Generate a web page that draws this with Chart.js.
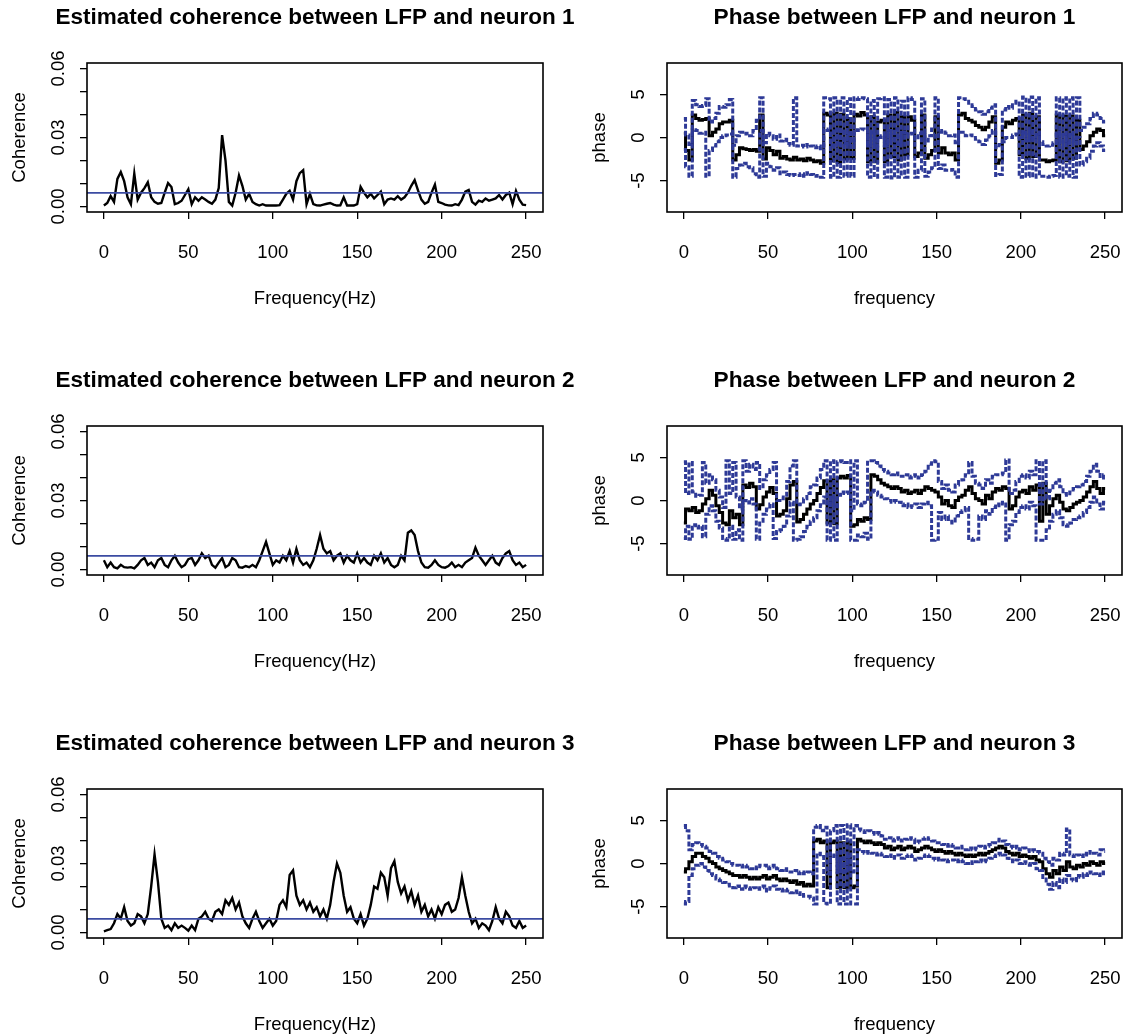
<!DOCTYPE html>
<html>
<head>
<meta charset="utf-8">
<script src="https://cdn.jsdelivr.net/npm/chart.js@4.4.0/dist/chart.umd.min.js"></script>
<style>
  body { margin: 0; background: #fff; }
  #wrap { position: relative; width: 1127px; height: 1035px; overflow: hidden; background: #fff; }
  .cell { position: absolute; }
</style>
</head>
<body>
<div id="wrap">
  <div class="cell" style="left:0;top:0"><canvas id="coh1" width="620" height="363"></canvas></div>
  <div class="cell" style="left:0;top:363px"><canvas id="coh2" width="620" height="363"></canvas></div>
  <div class="cell" style="left:0;top:726px"><canvas id="coh3" width="620" height="363"></canvas></div>
  <div class="cell" style="left:563px;top:0"><canvas id="ph1" width="564" height="363"></canvas></div>
  <div class="cell" style="left:563px;top:363px"><canvas id="ph2" width="564" height="363"></canvas></div>
  <div class="cell" style="left:563px;top:726px"><canvas id="ph3" width="564" height="363"></canvas></div>
</div>
<script>
/* coherence / phase between LFP and 3 neurons, R base-graphics look */

// frequency grid, 0..250 Hz every 2 Hz
const freq = Array.from({length: 126}, (_, i) => i * 2);

const xTicks = [0, 50, 100, 150, 200, 250];
const cohTicks = [0, 0.01, 0.02, 0.03, 0.04, 0.05, 0.06];
const cohTickLabels = ['0.00', '', '', '0.03', '', '', '0.06'];
const phaseTicks = [-5, 0, 5];
const phaseTickLabels = ['-5', '0', '5'];
const cohThreshold = 0.0059;

const coh1 = [
  0.0004,0.0015,0.0045,0.002,0.012,0.015,0.011,0.004,0.001,0.0143,
  0.003,0.006,0.008,0.0105,0.004,0.002,0.0012,0.0015,0.006,0.0102,
  0.0085,0.001,0.0015,0.0025,0.005,0.0075,0.001,0.004,0.0025,0.004,
  0.003,0.002,0.0012,0.003,0.008,0.031,0.02,0.002,0.0004,0.006,
  0.0135,0.009,0.003,0.0055,0.002,0.001,0.0004,0.001,0.0004,0.0004,
  0.0005,0.0004,0.0006,0.003,0.0055,0.0068,0.003,0.011,0.0145,0.0158,
  0.001,0.0055,0.001,0.0005,0.0004,0.0008,0.0012,0.0015,0.0008,0.0004,
  0.0005,0.004,0.0004,0.0005,0.0004,0.001,0.0085,0.006,0.004,0.0055,
  0.0035,0.005,0.0065,0.001,0.003,0.0035,0.003,0.0045,0.003,0.004,
  0.006,0.009,0.0115,0.007,0.003,0.0012,0.002,0.006,0.0095,0.002,
  0.0015,0.0008,0.0005,0.0004,0.001,0.0006,0.003,0.0065,0.0072,0.002,
  0.0008,0.0025,0.002,0.0035,0.0025,0.003,0.0035,0.005,0.003,0.005,
  0.006,0.001,0.0068,0.003,0.0008,0.0006
];
const coh2 = [
  0.004,0.001,0.003,0.001,0.0005,0.002,0.001,0.0008,0.001,0.0005,
  0.002,0.004,0.005,0.002,0.003,0.001,0.004,0.005,0.002,0.001,
  0.004,0.006,0.003,0.001,0.002,0.0045,0.005,0.002,0.004,0.007,
  0.005,0.006,0.002,0.0008,0.003,0.005,0.001,0.002,0.005,0.004,
  0.001,0.0008,0.0015,0.001,0.002,0.001,0.004,0.008,0.012,0.007,
  0.002,0.004,0.003,0.006,0.004,0.008,0.003,0.009,0.004,0.002,
  0.003,0.001,0.004,0.009,0.015,0.009,0.007,0.008,0.004,0.006,
  0.007,0.003,0.006,0.004,0.003,0.007,0.003,0.005,0.003,0.002,
  0.006,0.004,0.007,0.003,0.005,0.002,0.001,0.002,0.006,0.004,
  0.016,0.017,0.015,0.008,0.003,0.001,0.0008,0.002,0.004,0.002,
  0.001,0.0008,0.0015,0.003,0.001,0.002,0.001,0.003,0.004,0.005,
  0.0095,0.006,0.004,0.002,0.004,0.006,0.003,0.002,0.005,0.007,
  0.008,0.004,0.002,0.003,0.001,0.002
];
const coh3 = [
  0.0005,0.001,0.0015,0.004,0.008,0.006,0.011,0.005,0.003,0.004,
  0.008,0.007,0.004,0.008,0.02,0.034,0.022,0.006,0.002,0.003,
  0.001,0.004,0.002,0.003,0.002,0.0008,0.003,0.001,0.006,0.007,
  0.009,0.006,0.005,0.009,0.01,0.008,0.014,0.012,0.015,0.01,
  0.013,0.007,0.004,0.002,0.006,0.009,0.005,0.002,0.004,0.006,
  0.003,0.005,0.012,0.014,0.011,0.025,0.027,0.016,0.012,0.014,
  0.01,0.013,0.009,0.011,0.007,0.01,0.006,0.012,0.022,0.03,
  0.026,0.016,0.009,0.011,0.006,0.004,0.008,0.003,0.006,0.012,
  0.02,0.019,0.026,0.024,0.016,0.028,0.031,0.022,0.017,0.02,
  0.014,0.018,0.012,0.016,0.009,0.012,0.007,0.01,0.006,0.011,
  0.008,0.012,0.013,0.009,0.01,0.015,0.024,0.016,0.009,0.004,
  0.006,0.002,0.004,0.003,0.001,0.005,0.011,0.006,0.004,0.009,
  0.007,0.003,0.002,0.005,0.002,0.003
];

// phase estimate and upper / lower bounds (radians)
const phase1 = [
  0.5,-1.5,-2.6,2.6,2.2,2.0,2.1,2.2,0.2,0.6,
  1.0,1.6,1.8,1.8,2.0,-2.6,-2.0,-1.2,-1.3,-1.4,
  -1.5,-1.4,-1.6,2.6,-2.5,-1.2,-1.5,-2.0,-1.6,-2.4,
  -2.2,-2.5,-2.6,-2.3,-2.6,-2.5,-2.7,-2.4,-2.6,-2.8,
  -2.7,-3.0,2.8,2.6,-2.7,2.8,-2.9,2.7,-2.5,2.2,
  -2.4,2.7,2.5,2.9,2.6,-2.8,2.4,-2.8,1.8,2.0,
  -2.8,2.6,-2.2,2.9,-2.6,2.4,-2.0,2.4,2.0,-2.2,
  -1.8,2.6,-2.4,-2.0,-1.5,2.4,-1.8,-1.2,-1.8,-2.0,
  -1.8,-2.6,2.6,2.8,2.2,2.0,1.8,1.4,1.2,0.9,
  1.2,1.8,2.4,-3.0,-2.6,1.2,1.8,1.6,2.0,2.2,
  -2.0,2.6,-2.4,2.8,-2.2,2.4,-2.6,-2.6,-2.8,-2.7,
  -2.6,2.6,-2.8,2.5,-2.7,2.5,-2.4,2.0,-1.4,-1.0,
  -0.5,0.2,0.6,1.0,0.8,0.2
];
const upper1 = [
  2.2,0.3,-0.8,4.3,3.8,3.6,3.7,4.5,1.8,2.2,
  2.8,3.6,3.5,3.8,4.4,-0.9,0.2,0.6,0.4,0.5,
  0.2,0.8,2.0,4.6,-0.6,0.5,0.2,-0.2,0.3,-0.4,
  -0.2,-0.7,-0.9,4.6,-1.0,-0.9,-1.1,-0.8,-1.0,-1.2,
  -1.0,-1.3,4.6,4.5,-0.9,4.6,-1.0,4.6,-0.7,4.5,
  -0.6,4.6,4.4,4.6,4.5,-1.0,4.3,-1.0,4.5,4.6,
  -1.0,4.4,-0.4,4.6,-0.8,4.2,0.5,4.6,4.4,-0.2,
  0.5,4.5,-0.4,0.2,1.0,4.6,0.6,0.8,0.5,0.2,
  0.3,-0.6,4.6,4.5,4.4,3.8,3.6,3.2,3.0,2.7,
  3.0,3.4,3.8,-1.2,-0.8,3.2,3.6,3.4,3.8,4.2,
  0.0,4.7,-0.4,4.7,-0.2,4.6,-0.5,-0.8,-1.0,-0.9,
  -0.6,4.6,-0.8,4.6,-0.7,4.6,-0.4,4.6,0.8,1.2,
  1.6,2.2,2.8,2.6,2.2,1.8
];
const lower1 = [
  -1.4,-3.4,-4.5,0.9,0.8,0.5,0.6,-4.5,-1.5,-1.0,
  -0.5,0.0,0.2,0.3,0.4,-4.6,-3.6,-3.2,-3.0,-3.4,
  -3.5,-4.2,-4.6,0.8,-4.5,-3.0,-3.4,-3.8,-3.5,-4.2,
  -4.0,-4.3,-4.4,-4.3,-4.4,-4.2,-4.5,-4.1,-4.3,-4.5,
  -4.4,-4.6,1.0,0.8,-4.6,1.0,-4.6,0.9,-4.5,0.4,
  -4.5,0.9,0.8,1.0,0.9,-4.6,0.6,-4.6,0.0,0.2,
  -4.6,0.8,-4.7,1.0,-4.6,0.6,-4.6,0.4,0.5,-4.6,
  -3.8,0.6,-4.5,-4.0,-3.5,0.4,-3.6,-3.2,-3.8,-3.8,
  -3.7,-4.6,0.6,0.6,0.2,0.3,0.2,-0.2,-0.5,-0.8,
  -0.3,0.2,0.8,-4.4,-4.3,-0.5,0.0,0.0,0.3,0.4,
  -4.6,0.6,-4.5,0.8,-4.6,0.4,-4.5,-4.5,-4.6,-4.5,
  -4.4,0.6,-4.6,0.4,-4.5,0.4,-4.6,0.0,-3.2,-2.8,
  -2.4,-1.6,-1.0,-0.6,-1.0,-1.5
];

const phase2 = [
  -2.6,-1.0,-1.2,-0.8,-1.4,-1.2,-0.4,0.2,1.2,0.6,
  -0.6,-1.4,-2.6,-2.8,-1.2,-2.0,-1.6,-2.8,1.8,1.5,
  2.0,1.6,-1.0,-0.5,0.4,1.0,1.5,0.8,-1.8,-1.6,
  -1.2,0.2,1.8,2.2,-2.5,-2.2,-1.6,-1.0,-0.4,0.0,
  0.8,1.5,2.3,-2.6,2.4,-2.7,2.6,2.8,2.6,2.9,
  -3.0,-2.8,-2.2,-2.4,-2.0,-2.2,3.0,2.8,2.4,2.0,
  1.8,1.6,1.4,1.6,1.4,1.0,1.2,0.8,1.0,1.2,
  0.8,1.2,1.6,1.4,1.2,1.0,0.4,-0.4,0.0,-0.6,
  -0.8,0.0,0.4,0.6,1.2,1.6,0.8,0.2,0.0,-0.4,
  0.6,0.2,1.0,1.4,1.2,1.6,1.4,-1.0,-0.6,0.4,
  1.0,1.2,0.8,1.6,1.2,1.8,-2.4,2.0,-1.6,-0.6,
  0.2,0.6,-0.2,-1.0,-1.2,-0.8,-0.4,-0.2,0.0,0.4,
  1.0,1.6,2.2,1.4,0.8,1.4
];
const upper2 = [
  4.5,0.8,4.4,1.0,0.5,0.6,4.4,2.0,3.0,2.4,
  1.2,0.4,-0.8,4.6,0.8,4.4,0.4,-1.0,4.6,3.4,
  4.2,3.6,4.4,1.4,2.4,3.0,3.6,4.4,0.0,0.2,
  0.6,2.2,4.0,4.6,-0.5,-0.4,0.2,0.8,1.6,1.8,
  2.6,3.6,4.6,-0.6,4.6,-0.7,4.5,4.6,4.4,4.6,
  -1.2,4.6,-0.4,-0.6,-0.2,4.6,4.6,4.4,4.0,3.6,
  3.4,3.2,3.0,3.2,3.0,2.8,3.0,2.6,2.8,3.0,
  2.6,3.0,3.4,4.2,4.6,4.5,2.2,1.4,1.8,1.2,
  1.0,1.8,2.2,2.4,3.0,4.4,2.8,2.0,1.8,1.4,
  2.4,2.0,2.8,3.0,3.0,3.2,4.7,0.8,1.2,2.2,
  2.8,3.0,2.6,3.4,3.0,4.6,-0.4,4.6,0.2,1.2,
  2.0,2.4,1.6,0.8,0.6,1.0,1.4,1.6,1.8,2.2,
  2.8,3.4,4.2,3.4,2.6,3.0
];
const lower2 = [
  -4.4,-3.0,-4.5,-2.8,-3.2,-3.0,-4.2,-1.6,-0.6,-1.2,
  -2.4,-3.2,-4.4,-4.6,-3.0,-4.5,-3.4,-4.6,0.0,-0.3,
  0.2,-0.4,-4.5,-2.6,-1.6,-1.0,-0.4,-4.4,-3.6,-3.4,
  -3.0,-1.8,-0.2,-4.6,-4.5,-4.2,-3.6,-3.0,-2.4,-2.0,
  -1.2,-0.5,0.4,-4.6,0.4,-4.6,0.6,1.0,0.8,1.0,
  -4.6,-4.6,-4.0,-4.2,-3.8,-4.5,1.2,1.0,0.6,0.4,
  0.2,0.0,-0.2,0.0,-0.2,-0.6,-0.4,-0.8,-0.6,-0.4,
  -0.8,-0.4,-0.2,-0.6,-4.6,-4.5,-1.4,-2.2,-1.8,-2.4,
  -2.6,-1.8,-1.4,-1.2,-0.8,-4.4,-4.6,-4.5,-1.8,-2.2,
  -1.2,-1.6,-0.8,-0.4,-0.6,-0.2,-4.6,-2.8,-2.4,-1.4,
  -0.8,-0.6,-1.0,-0.2,-0.6,-4.6,-4.6,-4.6,-3.4,-2.4,
  -1.6,-1.2,-2.0,-2.8,-3.0,-2.6,-2.2,-2.0,-1.8,-1.4,
  -0.8,-0.2,0.4,-0.4,-1.0,-0.2
];

const phase3 = [
  -1.0,-0.6,0.2,0.8,1.2,1.2,0.8,0.6,0.2,0.0,
  -0.4,-0.6,-0.8,-1.0,-1.2,-1.4,-1.4,-1.6,-1.4,-1.6,
  -1.8,-1.6,-1.8,-1.6,-1.4,-1.8,-1.6,-1.4,-1.8,-2.0,
  -1.8,-2.0,-2.2,-2.0,-2.4,-2.2,-2.6,-2.4,-2.6,2.6,
  2.8,2.4,2.6,-2.8,2.4,2.6,-2.8,2.4,-2.8,2.5,
  -2.8,-2.6,2.8,2.6,2.4,2.6,2.4,2.2,2.4,2.2,
  1.8,2.0,1.6,1.8,2.0,1.6,1.8,2.0,1.8,1.4,
  1.6,1.8,2.0,1.8,1.6,1.4,1.6,1.4,1.2,1.4,
  1.2,1.0,1.2,1.0,0.8,1.0,0.8,1.0,1.2,1.0,
  1.2,1.4,1.6,1.8,2.0,1.8,1.4,1.2,1.0,1.2,
  0.8,1.0,0.8,0.6,0.8,0.4,0.2,-0.6,-1.2,-1.6,
  -0.8,-1.2,-0.4,-0.8,0.2,-0.4,-0.6,-0.2,-0.4,0.0,
  -0.2,0.2,0.0,-0.2,0.2,0.0
];
const upper3 = [
  4.4,3.8,1.6,2.2,2.4,2.2,2.0,1.8,1.4,1.2,
  0.8,0.6,0.4,0.2,0.0,-0.2,-0.2,-0.4,-0.2,-0.4,
  -0.6,-0.4,-0.6,-0.2,-0.2,-0.6,-0.4,-0.2,-0.6,-0.8,
  -0.6,-0.8,-1.0,-0.8,-1.2,-1.0,-1.2,-1.0,-1.2,4.2,
  4.4,3.8,4.2,-1.2,3.8,4.4,-1.0,4.4,-1.0,4.5,
  -1.0,4.4,4.0,3.8,3.6,3.8,3.6,3.4,3.6,3.2,
  2.8,3.0,2.6,2.8,3.0,2.6,2.8,3.0,2.8,2.4,
  2.6,2.8,3.0,2.8,2.6,2.4,2.4,2.2,2.0,2.2,
  2.0,1.8,2.0,1.8,1.6,1.8,1.6,1.8,2.0,1.8,
  2.0,2.2,2.4,2.6,2.8,2.6,2.2,2.0,1.8,2.0,
  1.6,1.8,1.6,1.4,1.6,1.4,1.2,0.6,0.2,-0.2,
  0.6,0.4,1.2,1.0,4.0,1.0,0.8,1.0,0.8,1.2,
  1.0,1.4,1.2,1.0,1.6,1.4
];
const lower3 = [
  -4.7,-4.4,-1.4,-0.6,-0.2,0.0,-0.4,-0.8,-1.2,-1.4,
  -1.8,-2.0,-2.2,-2.4,-2.6,-2.8,-2.6,-3.0,-2.6,-2.8,
  -3.0,-2.8,-3.0,-2.8,-2.6,-3.2,-2.8,-2.6,-3.0,-3.2,
  -3.0,-3.2,-3.4,-3.2,-3.6,-3.4,-3.8,-3.8,-4.0,-4.7,
  1.2,0.8,-4.6,-4.7,0.8,1.0,-4.7,0.6,-4.7,0.8,
  -4.7,-4.7,1.6,1.4,1.2,1.4,1.2,1.0,1.2,1.0,
  0.8,1.0,0.6,0.8,1.0,0.6,0.8,1.0,0.8,0.4,
  0.6,0.8,1.0,0.8,0.6,0.4,0.6,0.4,0.2,0.4,
  0.4,0.2,0.4,0.2,0.0,0.2,0.0,0.2,0.4,0.2,
  0.4,0.6,0.8,1.0,1.2,1.0,0.6,0.4,0.2,0.4,
  0.0,0.2,0.0,-0.2,0.0,-0.6,-0.8,-1.8,-2.4,-3.0,
  -2.2,-2.8,-1.8,-2.2,-1.4,-1.8,-2.0,-1.4,-1.6,-1.2,
  -1.4,-1.0,-1.2,-1.4,-1.0,-1.2
];

const FONT = '"Liberation Sans", Arial, Helvetica, sans-serif';
const BLUE = '#2e3a97';

const pts = ys => freq.map((f, i) => ({x: f, y: ys[i]}));

// frame, titles and rotated y labels drawn like R base graphics
const rFrame = {
    id: 'rFrame',
    afterDraw(chart, args, o) {
        const {ctx, chartArea: a, scales: {x, y}} = chart;
        ctx.save();
        ctx.strokeStyle = '#000';
        ctx.lineWidth = 1.6;
        ctx.strokeRect(a.left, a.top, a.right - a.left, a.bottom - a.top);

        ctx.fillStyle = '#000';
        ctx.textAlign = 'center';
        ctx.textBaseline = 'alphabetic';
        const cx = (a.left + a.right) / 2;
        const cy = (a.top + a.bottom) / 2;

        ctx.font = 'bold ' + o.titleSize + 'px ' + FONT;
        ctx.fillText(o.title, cx, a.top - 39);

        ctx.font = '18.5px ' + FONT;
        xTicks.forEach(v => ctx.fillText(String(v), x.getPixelForValue(v), a.bottom + 46));
        ctx.fillText(o.xLabel, cx, a.bottom + 92);

        o.yTicks.forEach((v, i) => {
            const lab = o.yLabels[i];
            if (!lab) return;
            ctx.save();
            ctx.translate(a.left - 23, y.getPixelForValue(v));
            ctx.rotate(-Math.PI / 2);
            ctx.fillText(lab, 0, 0);
            ctx.restore();
        });

        ctx.save();
        ctx.translate(a.left - 62.5, cy);
        ctx.rotate(-Math.PI / 2);
        ctx.fillText(o.yLabel, 0, 0);
        ctx.restore();
        ctx.restore();
    }
};

function axes(yMin, yMax, yTicks, yWidth) {
    const tickGrid = {display: true, drawOnChartArea: false, drawTicks: true, tickLength: 7, color: '#000', lineWidth: 1.3};
    return {
        x: {
            type: 'linear', position: 'bottom', min: -10, max: 260,
            afterBuildTicks: s => { s.ticks = xTicks.map(v => ({value: v})); },
            afterFit: s => { s.height = 151; },
            ticks: {display: false},
            grid: tickGrid,
            border: {display: false},
        },
        y: {
            type: 'linear', position: 'left', min: yMin, max: yMax,
            afterBuildTicks: s => { s.ticks = yTicks.map(v => ({value: v})); },
            afterFit: s => { s.width = yWidth; },
            ticks: {display: false},
            grid: tickGrid,
            border: {display: false},
        },
    };
}

function lineSet(ys, color, width, dash, stepped) {
    return {
        data: pts(ys),
        borderColor: color,
        borderWidth: width,
        borderDash: dash || [],
        pointRadius: 0,
        fill: false,
        tension: 0,
        stepped: stepped || false,
    };
}

function makeCoherence(id, title, values) {
    new Chart(document.getElementById(id), {
        type: 'line',
        data: {
            datasets: [
                {
                    data: [{x: -10, y: cohThreshold}, {x: 260, y: cohThreshold}],
                    borderColor: '#3b4ba2', borderWidth: 1.6, pointRadius: 0, fill: false,
                },
                lineSet(values, '#000', 2.4),
            ]
        },
        options: {
            responsive: false, animation: false, events: [],
            layout: {padding: {top: 63, right: 77, left: 0, bottom: 0}},
            plugins: {
                legend: {display: false}, tooltip: {enabled: false},
                rFrame: {title: title, titleSize: 22.5, xLabel: 'Frequency(Hz)', yLabel: 'Coherence',
                         yTicks: cohTicks, yLabels: cohTickLabels},
            },
            scales: axes(-0.0024, 0.0624, cohTicks, 87),
        },
        plugins: [rFrame],
    });
}

function makePhase(id, title, ph, up, lo) {
    new Chart(document.getElementById(id), {
        type: 'line',
        data: {
            // first dataset is drawn on top: bounds over the estimate
            datasets: [
                lineSet(up, BLUE, 3, [5, 2], 'middle'),
                lineSet(lo, BLUE, 3, [5, 2], 'middle'),
                lineSet(ph, '#000', 3, null, 'middle'),
            ]
        },
        options: {
            responsive: false, animation: false, events: [],
            layout: {padding: {top: 63, right: 5, left: 0, bottom: 0}},
            plugins: {
                legend: {display: false}, tooltip: {enabled: false},
                rFrame: {title: title, titleSize: 22.7, xLabel: 'frequency', yLabel: 'phase',
                         yTicks: phaseTicks, yLabels: phaseTickLabels},
            },
            scales: axes(-8.64, 8.64, phaseTicks, 104),
        },
        plugins: [rFrame],
    });
}

makeCoherence('coh1', 'Estimated coherence between LFP and neuron 1', coh1);
makeCoherence('coh2', 'Estimated coherence between LFP and neuron 2', coh2);
makeCoherence('coh3', 'Estimated coherence between LFP and neuron 3', coh3);
makePhase('ph1', 'Phase between LFP and neuron 1', phase1, upper1, lower1);
makePhase('ph2', 'Phase between LFP and neuron 2', phase2, upper2, lower2);
makePhase('ph3', 'Phase between LFP and neuron 3', phase3, upper3, lower3);
</script>
</body>
</html>
